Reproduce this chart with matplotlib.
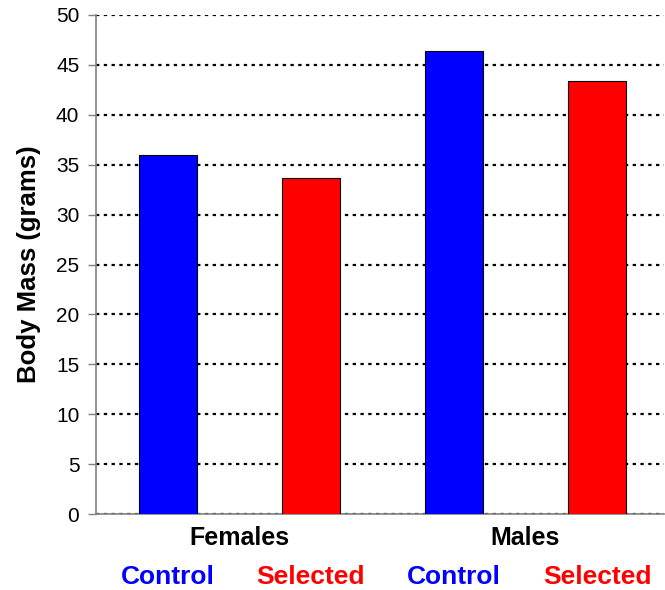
import numpy as np
import matplotlib.pyplot as plt

# values
groups = ["Females", "Males"]
treatments = ["Control", "Selected"]
mass = [36.0, 33.7, 46.4, 43.4]   # F-control, F-selected, M-control, M-selected
bar_colors = ["#0000ff", "#ff0000", "#0000ff", "#ff0000"]

plt.rcParams["font.family"] = ["Liberation Sans", "DejaVu Sans"]

fig = plt.figure(figsize=(6.65, 5.9), dpi=100)
ax = fig.add_axes([96 / 665, 76 / 590, 1 - 96 / 665 - 0.001, (514 - 15) / 590])

x = np.arange(len(mass)) + 0.5
ax.bar(x, mass, width=0.405, color=bar_colors, edgecolor="black", linewidth=0.8, zorder=3)

ax.set_xlim(0, 3.97)
ax.set_ylim(0, 50)
ax.set_yticks(np.arange(0, 51, 5))
ax.yaxis.grid(True, color="black", linestyle=(0, (1.5, 2)), linewidth=1.6, zorder=1)
ax.set_axisbelow(True)

for s in ["top", "right"]:
    ax.spines[s].set_visible(False)
for s in ["left", "bottom"]:
    ax.spines[s].set_color("#808080")
    ax.spines[s].set_linewidth(1.2)

ax.tick_params(axis="y", length=6, width=1, color="#808080", labelsize=15, pad=6)
ax.set_xticks([])

ax.set_ylabel("Body Mass (grams)", fontsize=18.5, fontweight="bold", labelpad=11)

# group labels and treatment labels below the axis
for i, g in enumerate(groups):
    ax.text(2 * i + 1, -2.4, g, ha="center", va="center", fontsize=18,
            fontweight="bold")
for i, xv in enumerate(x):
    t = treatments[i % 2]
    ax.text(xv, -6.3, t, ha="center", va="center", fontsize=19,
            fontweight="bold", color=bar_colors[i])

fig.savefig("out.png", dpi=100)
